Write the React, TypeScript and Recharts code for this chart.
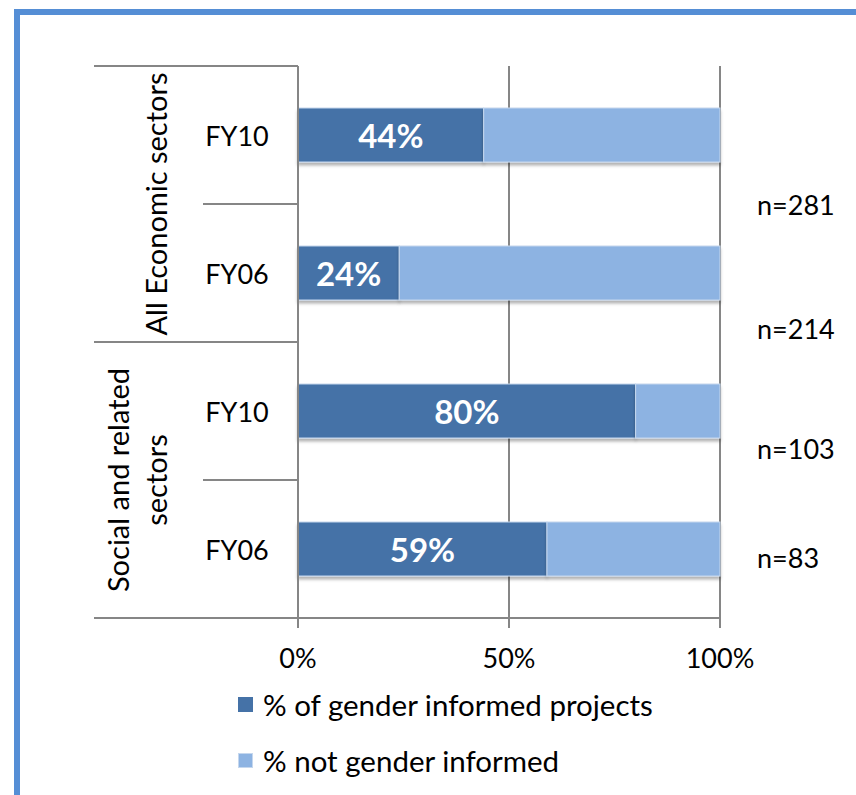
import { BarChart, Bar, XAxis, YAxis, CartesianGrid, LabelList } from 'recharts';

const groups = ['All Economic sectors', 'All Economic sectors', 'Social and related sectors', 'Social and related sectors'];
const years = ['FY10', 'FY06', 'FY10', 'FY06'];
const informed = [44, 24, 80, 59];
const notInformed = [56, 76, 20, 41];
const sampleSizes = [281, 214, 103, 83];
const xTicks = [0, 50, 100];

const DARK = '#4572a7';
const LIGHT = '#8db3e2';
const GRID = '#868686';
const FRAME = '#558ed5';
const FONT = 'Lato, "Open Sans", sans-serif';

const W = 856;
const H = 795;
const M = { top: 66, right: 136, bottom: 137, left: 0 };
const Y_AXIS_W = 298;
const X_AXIS_H = 40;
const PLOT_H = H - M.top - M.bottom - X_AXIS_H;
const BAND = PLOT_H / years.length;
// where the n= notes sit relative to each bar centre
const nOffsets = [69, 55, 37, 8];

const data = years.map((y, i) => ({
  key: `${groups[i]}-${y}-${i}`,
  group: groups[i],
  year: y,
  informed: informed[i],
  notInformed: notInformed[i],
  n: sampleSizes[i],
}));

const groupLines: Record<string, string[]> = {
  'All Economic sectors': ['All Economic sectors'],
  'Social and related sectors': ['Social and related', 'sectors'],
};

const CategoryTick = ({ x, y, payload }: any) => {
  const i = payload.index;
  const d = data[i];
  const first = i === 0 || data[i - 1].group !== d.group;
  const last = i === data.length - 1 || data[i + 1].group !== d.group;
  const lines = groupLines[d.group];
  const gx = x - 143 - (lines.length - 1) * 19;
  return (
    <g>
      <text x={x - 61} y={y} textAnchor="middle" dominantBaseline="central" fontSize={27} fill="#000" fontFamily={FONT}>
        {d.year}
      </text>
      {first && <line x1={x - 204} x2={x} y1={y - BAND / 2} y2={y - BAND / 2} stroke={GRID} strokeWidth={2} />}
      {!last && <line x1={x - 95} x2={x} y1={y + BAND / 2} y2={y + BAND / 2} stroke={GRID} strokeWidth={2} />}
      {last && <line x1={x - 204} x2={x} y1={y + BAND / 2} y2={y + BAND / 2} stroke={GRID} strokeWidth={2} />}
      {first && (
        <text
          transform={`translate(${gx}, ${y + BAND / 2}) rotate(-90)`}
          textAnchor="middle"
          fontSize={29}
          fill="#000"
          fontFamily={FONT}
        >
          {lines.map((t, k) => (
            <tspan key={k} x={0} y={(k - (lines.length - 1) / 2) * 38} dominantBaseline="central">
              {t}
            </tspan>
          ))}
        </text>
      )}
    </g>
  );
};

const PctTick = ({ x, y, payload }: any) => (
  <text x={x} y={y + 40} textAnchor="middle" fontSize={27} fill="#000" fontFamily={FONT}>
    {`${payload.value}%`}
  </text>
);

const ShadowBar = (props: any) => {
  const { x, y, width, height, fill } = props;
  return <rect x={x} y={y} width={width} height={height} fill={fill} stroke="#c5d7ee" strokeWidth={1} filter="url(#barShadow)" />;
};

const PctLabel = (props: any) => {
  const { x, y, width, height, value } = props;
  return (
    <text
      x={x + width / 2}
      y={y + height / 2}
      textAnchor="middle"
      dominantBaseline="central"
      fontSize={33}
      fontWeight={700}
      fill="#fff"
      fontFamily={FONT}
    >
      {`${value}%`}
    </text>
  );
};

const NLabel = (props: any) => {
  const { y, height, index } = props;
  return (
    <text
      x={757}
      y={y + height / 2 + nOffsets[index]}
      dominantBaseline="central"
      fontSize={27}
      fill="#000"
      fontFamily={FONT}
    >
      {`n=${sampleSizes[index]}`}
    </text>
  );
};

const legendItems = [
  { label: '% of gender informed projects', color: DARK, border: DARK },
  { label: '% not gender informed', color: LIGHT, border: '#c5d7ee' },
];

export default function App() {
  return (
    <div style={{ position: 'absolute', left: 0, top: 0, width: W, height: H, background: '#fff', overflow: 'hidden', fontFamily: FONT }}>
      <div
        style={{
          position: 'absolute',
          left: 14,
          top: 9,
          width: W,
          height: H,
          borderLeft: `6px solid ${FRAME}`,
          borderTop: `6px solid ${FRAME}`,
        }}
      />
      <div style={{ position: 'absolute', left: 0, top: 0 }}>
        <BarChart width={W} height={H} data={data} layout="vertical" margin={M}>
          <defs>
            <filter id="barShadow" x="-5%" y="-20%" width="110%" height="150%">
              <feDropShadow dx="0" dy="3" stdDeviation="1.5" floodColor="#000" floodOpacity="0.3" />
            </filter>
          </defs>
          <CartesianGrid horizontal={false} stroke={GRID} strokeWidth={2} />
          <XAxis
            type="number"
            domain={[0, 100]}
            ticks={xTicks}
            height={X_AXIS_H}
            axisLine={{ stroke: GRID, strokeWidth: 2 }}
            tickLine={{ stroke: GRID, strokeWidth: 2 }}
            tickSize={10}
            tickMargin={0}
            tick={<PctTick />}
            interval={0}
          />
          <XAxis
            xAxisId="top"
            orientation="top"
            type="number"
            domain={[0, 100]}
            height={0}
            tick={false}
            tickLine={false}
            axisLine={{ stroke: DARK, strokeWidth: 2 }}
          />
          <YAxis
            type="category"
            dataKey="key"
            width={Y_AXIS_W}
            axisLine={{ stroke: GRID, strokeWidth: 2 }}
            tickLine={false}
            tickSize={0}
            tickMargin={0}
            tick={<CategoryTick />}
            interval={0}
          />
          <YAxis
            yAxisId="right"
            orientation="right"
            type="category"
            dataKey="key"
            width={0}
            tick={false}
            tickLine={false}
            axisLine={{ stroke: DARK, strokeWidth: 2 }}
          />
          <Bar dataKey="informed" stackId="a" fill={DARK} barSize={54} shape={<ShadowBar />} isAnimationActive={false}>
            <LabelList dataKey="informed" content={<PctLabel />} />
          </Bar>
          <Bar dataKey="notInformed" stackId="a" fill={LIGHT} barSize={54} shape={<ShadowBar />} isAnimationActive={false}>
            <LabelList dataKey="n" content={<NLabel />} />
          </Bar>
        </BarChart>
      </div>
      {legendItems.map((it, i) => (
        <div key={it.label} style={{ position: 'absolute', left: 238, top: 685 + i * 56, height: 38, display: 'flex', alignItems: 'center' }}>
          <div style={{ width: 13, height: 13, background: it.color, border: `1px solid ${it.border}`, marginRight: 10 }} />
          <span style={{ fontSize: 29.5, color: '#000', whiteSpace: 'nowrap' }}>{it.label}</span>
        </div>
      ))}
    </div>
  );
}
